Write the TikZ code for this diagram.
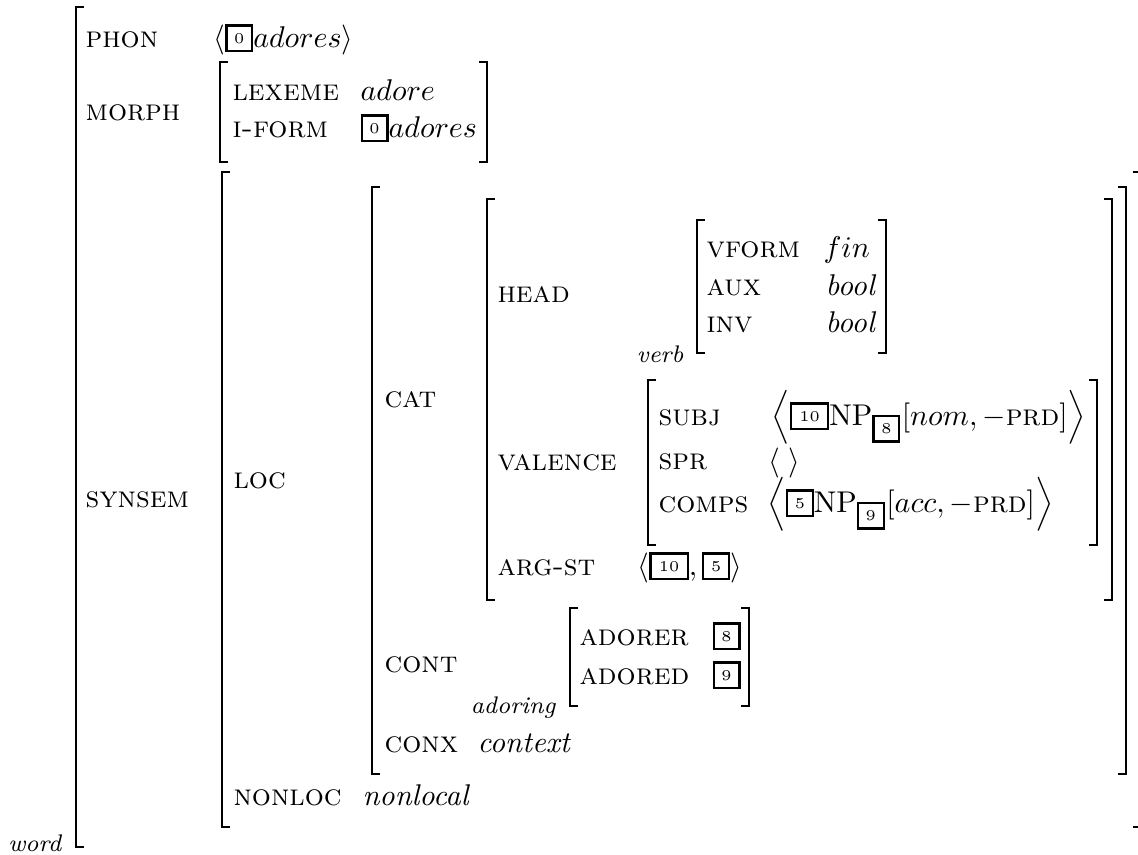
\documentclass[tikz,border=0pt]{standalone}
\newcommand\tagbx[2]{\raisebox{-1pt}{\setlength\fboxsep{0pt}\setlength\fboxrule{0.75pt}\fbox{\vbox to 7.83pt{\vss\hbox to #1{\hss\tiny #2\hss}\vss}}}}
\newcommand\tbs[1]{\tagbx{7.83pt}{#1}}
\newcommand\tbd[1]{\tagbx{11.67pt}{#1}}
\newcommand\lbrk[3]{\draw[brk] (#1+8,#2) -- (#1,#2) -- (#1,#3) -- (#1+8,#3);}
\newcommand\rbrk[3]{\draw[brk] (#1-8,#2) -- (#1,#2) -- (#1,#3) -- (#1-8,#3);}
\begin{document}
\begin{tikzpicture}[x=0.33333pt,y=-0.33333pt,
  attr/.style={inner sep=0pt,anchor=base west,font=\scshape},
  val/.style={inner sep=0pt,anchor=base west},
  sortlbl/.style={inner sep=0pt,anchor=base east,font=\footnotesize\itshape},
  brk/.style={line width=0.55pt}]
\useasboundingbox (0,0) rectangle (1138,854);
% brackets
\lbrk{76}{7}{847}
\rbrk{1150}{7}{847}
\lbrk{220}{62}{162}
\rbrk{487}{62}{162}
\lbrk{222}{172}{827}
\rbrk{1140.5}{172}{827}
\lbrk{372}{187}{774}
\rbrk{1126}{187}{774}
\lbrk{487}{199}{600}
\rbrk{1112}{199}{600}
\lbrk{697}{220}{353}
\rbrk{886}{220}{353}
\lbrk{648}{380}{545}
\rbrk{1097}{380}{545}
\lbrk{570}{608}{706}
\rbrk{749}{608}{706}
% top level
\node[attr] (phon) at (85,47) {phon};
\node[val] (phonv) at (213,47) {$\langle\tbs{0}adores\rangle$};
\node[attr] (morph) at (85,120) {morph};
\node[attr] (lex) at (232,100) {lexeme};
\node[val] (lexv) at (360,100) {$adore$};
\node[attr] (iform) at (232,137) {i-form};
\node[val] (iformv) at (360,137) {$\tbs{0}adores$};
\node[attr] (synsem) at (85,507) {synsem};
% synsem
\node[attr] (loc) at (233,488) {loc};
\node[attr] (cat) at (384,407) {cat};
\node[attr] (head) at (497,302) {head};
\node[sortlbl] (verb) at (684,362) {verb};
\node[attr] (vform) at (706,257) {vform};
\node[val] (vformv) at (823,257) {$fin$};
\node[attr] (aux) at (706,295) {aux};
\node[val] (auxv) at (825,295) {\textit{bool}};
\node[attr] (inv) at (706,332) {inv};
\node[val] (invv) at (825,332) {\textit{bool}};
\node[attr] (valence) at (497,470) {valence};
\node[attr] (subj) at (658,425) {subj};
\node[val] (subjv) at (771,425) {$\left\langle\tbd{10}\mathrm{NP}_{\tbs{8}}[nom, -\textsc{prd}]\right\rangle$};
\node[attr] (spr) at (658,469) {spr};
\node[val] (sprv) at (768,470) {$\langle\;\rangle$};
\node[attr] (comps) at (658,512) {comps};
\node[val] (compsv) at (767,512) {$\left\langle\tbs{5}\mathrm{NP}_{\tbs{9}}[acc, -\textsc{prd}]\right\rangle$};
\node[attr] (argst) at (497,575) {arg-st};
\node[val] (argstv) at (637,575) {$\langle\tbd{10},\tbs{5}\rangle$};
\node[attr] (cont) at (384,672) {cont};
\node[sortlbl] (adoring) at (556,713) {adoring};
\node[attr] (adorer) at (579,645) {adorer};
\node[val] (adorerv) at (712,645) {\tbs{8}};
\node[attr] (adored) at (579,684) {adored};
\node[val] (adoredv) at (712,684) {\tbs{9}};
\node[attr] (conx) at (384,752) {conx};
\node[val] (conxv) at (477,752) {\textit{context}};
\node[attr] (nonloc) at (233,805) {nonloc};
\node[val] (nonlocv) at (362,805) {\textit{nonlocal}};
\node[sortlbl] (word) at (62,851) {word};
\end{tikzpicture}
\end{document}
